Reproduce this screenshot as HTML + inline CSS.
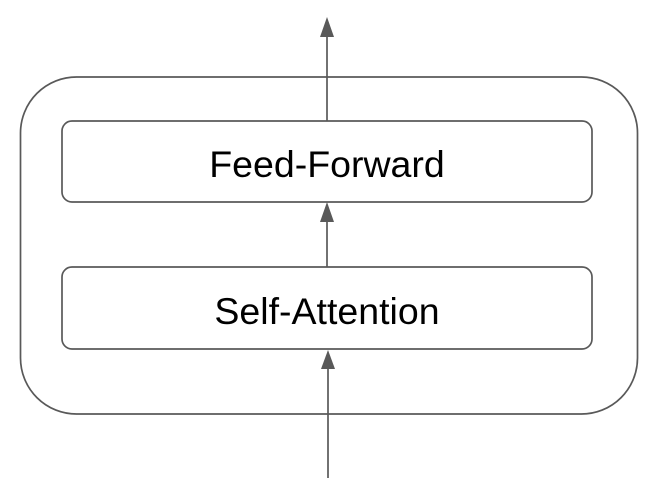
<!DOCTYPE html>
<html><head><meta charset="utf-8"><style>
html,body{margin:0;padding:0;background:#fff;width:659px;height:499px;overflow:hidden}
svg text{font-family:"Liberation Sans",Arial,sans-serif;font-size:37.5px;fill:#000}
</style></head><body>
<svg width="659" height="499" viewBox="0 0 659 499">
<rect x="20.5" y="77" width="617" height="337" rx="56" fill="none" stroke="#595959" stroke-width="1.7"/>
<rect x="62" y="121" width="530" height="81" rx="10" fill="none" stroke="#595959" stroke-width="1.7"/>
<text x="327" y="177" text-anchor="middle">Feed-Forward</text>
<rect x="62" y="267" width="530" height="82" rx="10" fill="none" stroke="#595959" stroke-width="1.7"/>
<text x="327" y="324" text-anchor="middle">Self-Attention</text>
<g>
<line x1="327" y1="121" x2="327" y2="33" stroke="#595959" stroke-width="1.7"/>
<polygon points="327,17 320,37 334,37" fill="#595959"/>
</g>
<g>
<line x1="327" y1="267" x2="327" y2="218" stroke="#595959" stroke-width="1.7"/>
<polygon points="327,202 320,222 334,222" fill="#595959"/>
</g>
<g>
<line x1="328" y1="478" x2="328" y2="365" stroke="#595959" stroke-width="1.7"/>
<polygon points="328,350 321,369 335,369" fill="#595959"/>
</g>
</svg>
</body></html>
